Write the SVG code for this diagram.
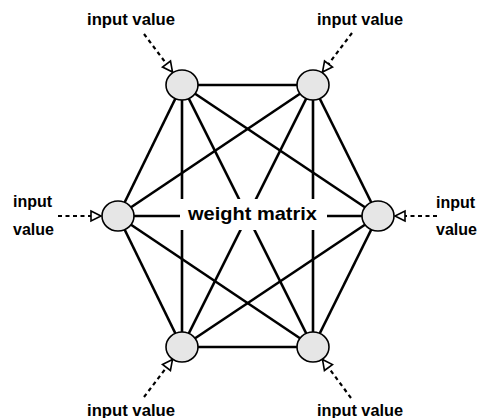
<svg xmlns="http://www.w3.org/2000/svg" width="479" height="418" viewBox="0 0 479 418">
<style>
.edge{stroke:#000;stroke-width:2.6;fill:none}
.inp{stroke:#000;stroke-width:2.2;stroke-dasharray:4 3.5;fill:none;marker-end:url(#tri)}
.node{fill:#e6e6e6;stroke:#000;stroke-width:1.6}
.lbl{font-family:"Liberation Sans",Arial,sans-serif;font-weight:bold;font-size:16px;fill:#000}
.mid{font-family:"Liberation Sans",Arial,sans-serif;font-weight:bold;font-size:19px;fill:#000}
</style>
<defs>
<marker id="tri" markerUnits="userSpaceOnUse" markerWidth="12" markerHeight="12" refX="10" refY="5" orient="auto" overflow="visible">
<path d="M0,0 L10,5 L0,10 Z" fill="#fff" stroke="#000" stroke-width="1.6" stroke-dasharray="none"/>
</marker>
</defs>
<rect width="479" height="418" fill="#fff"/>
<g id="connectors">
<line class="edge" x1="182" y1="85" x2="313" y2="85"/>
<line class="edge" x1="182" y1="85" x2="118" y2="216"/>
<line class="edge" x1="182" y1="85" x2="378" y2="216"/>
<line class="edge" x1="182" y1="85" x2="182" y2="347"/>
<line class="edge" x1="182" y1="85" x2="313" y2="347"/>
<line class="edge" x1="313" y1="85" x2="118" y2="216"/>
<line class="edge" x1="313" y1="85" x2="378" y2="216"/>
<line class="edge" x1="313" y1="85" x2="182" y2="347"/>
<line class="edge" x1="313" y1="85" x2="313" y2="347"/>
<line class="edge" x1="118" y1="216" x2="378" y2="216"/>
<line class="edge" x1="118" y1="216" x2="182" y2="347"/>
<line class="edge" x1="118" y1="216" x2="313" y2="347"/>
<line class="edge" x1="378" y1="216" x2="182" y2="347"/>
<line class="edge" x1="378" y1="216" x2="313" y2="347"/>
<line class="edge" x1="182" y1="347" x2="313" y2="347"/>
<line class="inp" x1="144" y1="34" x2="172.5" y2="72"/>
<line class="inp" x1="352" y1="33" x2="322.5" y2="72"/>
<line class="inp" x1="58" y1="216" x2="101" y2="216"/>
<line class="inp" x1="437" y1="216" x2="395" y2="216"/>
<line class="inp" x1="144" y1="397" x2="172.5" y2="359.5"/>
<line class="inp" x1="351" y1="398" x2="322.5" y2="359.5"/>
</g>
<g id="weight-matrix">
<rect x="180" y="199" width="147" height="31" fill="#fff"/>
<text class="mid" x="188" y="220" textLength="129" lengthAdjust="spacingAndGlyphs">weight matrix</text>
</g>
<g id="node-tl"><ellipse class="node" cx="182" cy="85" rx="16" ry="15"/></g>
<g id="node-tr"><ellipse class="node" cx="313" cy="85" rx="16" ry="15"/></g>
<g id="node-l"><ellipse class="node" cx="118" cy="216" rx="16" ry="15"/></g>
<g id="node-r"><ellipse class="node" cx="378" cy="216" rx="16" ry="15"/></g>
<g id="node-bl"><ellipse class="node" cx="182" cy="347" rx="16" ry="15"/></g>
<g id="node-br"><ellipse class="node" cx="313" cy="347" rx="16" ry="15"/></g>
<g id="labels">
<text class="lbl" x="131" y="25" text-anchor="middle" textLength="88" lengthAdjust="spacingAndGlyphs">input value</text>
<text class="lbl" x="360" y="25" text-anchor="middle" textLength="86" lengthAdjust="spacingAndGlyphs">input value</text>
<text class="lbl" x="13" y="207">input</text>
<text class="lbl" x="13" y="235">value</text>
<text class="lbl" x="436" y="208">input</text>
<text class="lbl" x="436" y="235">value</text>
<text class="lbl" x="131" y="416" text-anchor="middle" textLength="88" lengthAdjust="spacingAndGlyphs">input value</text>
<text class="lbl" x="360" y="416" text-anchor="middle" textLength="86" lengthAdjust="spacingAndGlyphs">input value</text>
</g>
</svg>
